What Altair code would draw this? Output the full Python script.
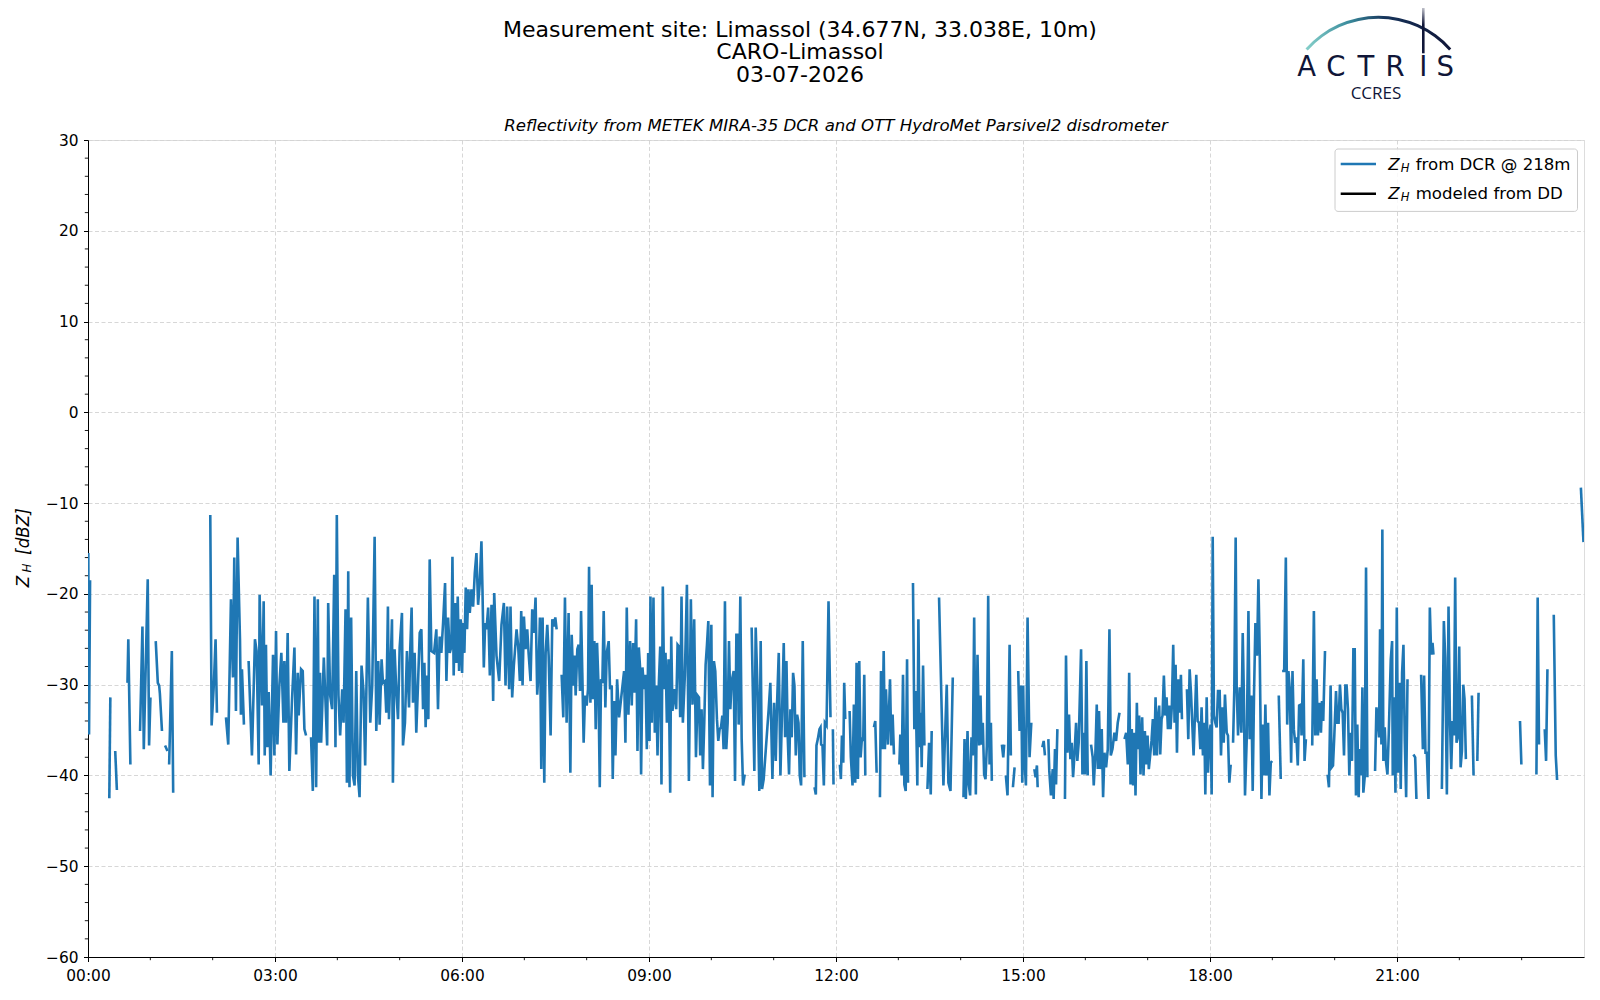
import altair as alt
import pandas as pd

# ---------------- data (minutes after 00:00 UTC, reflectivity dBZ); None = gap ----------------
t1 = [0, 0.3, 1, 2, None,
      20.5, 21.5, None,
      26.2, 27.8, None,
      38, 38.8, 40.8, None,
      50.1, 52.4, 53.7, 57.5, 58.8, 60.1, None,
      65.2, 67.2, 68.5, 69.2, 71.2, None,
      74.2, 76.5, None,
      78.1, 80.7, 82, None,
      117.7, 119, 121.2, 122.8, 124.1, None,
      132.8, 135, 137.6, 139.5, 140.8, 142.4, 144, 146.3, 147.2, 148.2, 150.1, None,
      154.6, 157.8, 160.7, 162.3, 164.3, 165.2, 167.5, 169.1, 170.1, 171.3,
      172.6, 173.9, 175.8, 178.1, 179.4, 181, 182.3, 184.2, 186.1, 188.1,
      189, 190.6, 192.2, 193.8, 196.4, 198.7, 200.3, 201.9, 202.8, 205.1,
      206.7, 208.3, 209.9, None,
      214.7, 216.4, 218, 219.6, 221.2, 222.1, 223.4, 224.4, 227, 230.2, 231.2]
z1 = [-35.5, -15.5, -35.5, -18.5, None,
      -42.5, -31.4, None,
      -37.3, -41.6, None,
      -29.8, -25.0, -38.8, None,
      -35.1, -23.6, -37.1, -18.4, -36.7, -31.4, None,
      -25.2, -29.8, -30.1, -31.0, -35.1, None,
      -36.7, -37.3, None,
      -38.8, -26.3, -41.9, None,
      -11.3, -34.5, -29.8, -25.0, -33.1, None,
      -33.6, -36.6, -20.6, -29.2, -16.0, -32.9, -13.8, -25.0, -33.3, -28.3, -34.4, None,
      -27.4, -37.8, -25.0, -26.3, -38.8, -20.1, -32.3, -20.8, -37.8, -25.6,
      -36.9, -30.8, -40.0, -26.7, -37.8, -24.1, -36.6, -30.1, -26.5, -34.2,
      -27.4, -34.2, -24.3, -39.5, -31.6, -25.9, -37.7, -28.7, -33.4, -28.3,
      -28.5, -34.9, -35.6, None,
      -35.8, -41.7, -20.3, -41.3, -20.6, -36.4, -28.7, -36.4, -27.0, -36.7, -21.0]

t2 = [233.1, 235.0, 237.0, 238.2, 239.5, 241.1, 242.7, 244.7, 246.0, 247.9,
      249.2, 250.5, 251.7, 253.3, 255.0, 256.6, 258.2, 259.8, 261.4, 263.3,
      265.2, 266.8, 269.4, 271.7, 273.6, 275.9, 277.5, 279.4, 280.7, 282.6,
      283.9, 285.8, 287.1, 288.7, 289.7, 291.0, 292.6, 293.5, 295.1, 296.7,
      298.4, 300.0, 302.2, 303.2, 305.1, 307.0, 309.0, 310.2, 311.5, 312.8,
      314.4, 316.0, 317.6, 319.3, 320.9, 322.5, 323.8, 325.0, 326.3, 327.6,
      328.9, 330.5, 333.1, 335.3, 336.9, 338.5, 340.1, 341.8, 343.7, 345.0,
      346.6, 348.2, 349.8, 350.8, 352.0, 353.3, 354.6, 355.9, 357.2, 358.8,
      360.1, 361.0, 362.3, 363.6, 364.9, 366.2, 367.5, 369.1, 370.7, 372.3,
      373.9, 375.5, 377.1, 378.7, 379.7, 381.0, 382.3, 383.6, 385.2, 386.8,
      388.4, 390.0, 391.0, 393.2, 395.8, 398.0, 400.3, 401.9, 403.5, 405.4,
      406.7, 408.3, 409.9, 412.5, 414.1, 415.7, 417.0, 418.3, 419.6, 421.2,
      422.8, 424.1, 426.0, 427.6, 429.2, 430.8, 432.4, 433.7, 435.0, 436.3,
      437.6, 439.2, 440.5, 442.1, 443.4, 445.3, 446.9, 448.5, 449.8, 451.1,
      None,
      455.9, 457.5, 459.1, 460.7, 462.6]
z2 = [-31.2, -32.7, -17.9, -36.9, -11.3, -31.2, -35.6, -30.5, -34.2, -21.7,
      -40.8, -17.5, -41.3, -22.6, -40.0, -41.1, -28.5, -40.0, -42.4, -27.9,
      -30.7, -38.9, -20.4, -34.2, -30.1, -13.7, -35.1, -27.4, -34.4, -27.2,
      -29.8, -29.6, -33.1, -21.4, -33.8, -29.0, -22.8, -40.8, -26.1, -30.5,
      -33.8, -25.9, -22.1, -36.7, -34.2, -26.3, -32.5, -26.1, -21.5, -32.0,
      -26.5, -35.3, -30.1, -24.3, -23.9, -32.7, -27.6, -34.7, -29.0, -33.8,
      -16.2, -26.3, -26.5, -23.9, -32.7, -24.7, -26.5, -23.2, -18.8, -29.6,
      -22.6, -26.5, -25.8, -15.9, -29.0, -21.0, -27.6, -20.3, -28.5, -22.8,
      -28.7, -23.2, -26.5, -19.3, -23.9, -19.5, -22.1, -19.5, -21.4, -17.7,
      -15.5, -21.2, -18.8, -14.2, -19.5, -28.1, -23.2, -23.9, -21.5, -29.0,
      -21.2, -31.8, -19.9, -26.8, -29.6, -23.4, -21.0, -30.1, -21.4, -30.5,
      -21.4, -31.4, -27.9, -23.9, -25.8, -29.6, -21.9, -30.1, -22.5, -26.1,
      -23.9, -26.5, -29.6, -21.7, -24.3, -20.4, -31.1, -28.5, -22.6, -39.3,
      -22.6, -40.8, -26.5, -23.4, -26.8, -35.6, -22.8, -23.6, -22.6, -23.9,
      None,
      -28.9, -33.6, -20.4, -34.2, -22.1]

t3 = [464.3, 465.6, 467.2, 468.4, 469.4, 471.0, 472.3, 473.6, 474.6, 475.8,
      477.1, 478.4, 480.0, 481.3, 482.3, 483.6, 484.8, 486.1, 487.4, 488.7,
      490.0, 491.3, 492.6, 493.8, 495.1, 496.4, 498.0, 499.3, 501.2, 502.5,
      504.1, 505.1, 506.4, 507.7, 509.3, 511.2, 516.0, 517.3, 518.6, 520.2,
      521.8, 523.4, 524.7, 526.0, 527.6, 528.9, 530.2, 531.5, 532.4, 533.7,
      535.3, 536.6, 537.9, 539.2, 540.5, 541.4, 542.7, 544.3, 545.6, 546.9,
      548.2, 549.5, 550.8, 552.0, 553.3, 554.6, 555.9, 557.2, 558.8, 560.4,
      561.4, 562.6, 564.3, 566.2, 567.5, 568.8, 570.0, 571.3, 572.6, 574.5,
      576.5, 578.4, 580.3, 581.9, 583.5, 585.2, 586.8, 588.1, 589.3, 590.6,
      591.9, 593.2, 594.5, 595.8, 597.1, 598.7, 600.0, 601.2, 602.5, 603.8,
      605.4, 606.7, 608.0, 609.3, 610.6, 611.8, 613.1, 614.4, 615.7, 617.0,
      618.3, 619.6, 621.5, 622.8, 624.1, 625.3, 626.3, 627.9, 629.2, 630.5,
      632.1, None,
      638.8, 641.4, 642.7, 644.6, 646.2, 647.5, 648.8, 650.4, 655.2, 656.8,
      658.8, 660.4, 662.0, 663.3, 664.9, 666.5, 668.1, 669.7, 671.0, 672.3,
      673.6, 674.8, 676.1, 677.4, 678.7, 680.0, 681.3, 682.6, 683.9, 685.1,
      686.4, 688.0, 689.6, None]
z3 = [-39.7, -24.5, -30.1, -26.8, -31.2, -26.1, -25.6, -30.7, -21.9, -28.7,
      -36.4, -31.2, -32.3, -30.5, -17.0, -32.0, -19.0, -31.6, -25.2, -34.9,
      -25.4, -29.8, -41.3, -29.4, -29.8, -21.9, -32.5, -26.5, -25.2, -30.5,
      -30.1, -40.4, -31.8, -37.8, -29.4, -33.6, -28.5, -36.4, -21.5, -33.3,
      -25.2, -32.3, -25.4, -30.9, -22.8, -37.3, -25.9, -28.3, -39.9, -28.1,
      -30.5, -28.9, -37.1, -26.5, -36.2, -20.3, -34.2, -20.4, -35.3, -30.1,
      -37.8, -29.8, -25.8, -41.0, -19.2, -30.5, -26.5, -34.2, -27.2, -41.9,
      -24.7, -32.9, -30.5, -32.7, -25.6, -25.8, -33.6, -20.3, -34.2, -29.0,
      -19.0, -40.6, -20.6, -32.2, -22.8, -38.0, -31.2, -31.4, -37.8, -32.7,
      -39.3, -34.2, -27.8, -25.6, -23.0, -41.1, -23.4, -42.4, -27.4, -28.5,
      -33.8, -36.2, -34.9, -34.7, -33.4, -37.1, -20.8, -37.1, -34.2, -25.2,
      -32.7, -29.6, -28.5, -40.6, -24.5, -24.5, -34.4, -20.3, -36.0, -41.1,
      -39.9, None,
      -23.7, -39.5, -23.7, -31.1, -41.7, -25.2, -41.5, -40.4, -32.7, -29.8,
      -40.4, -32.0, -38.4, -32.0, -26.5, -40.0, -32.9, -25.4, -35.8, -27.4,
      -36.0, -39.9, -32.7, -35.8, -28.7, -30.1, -37.8, -33.3, -34.2, -40.0,
      -41.1, -25.2, -40.2, None]

t4 = [699.3, 700.6, 701.2, 702.5, 704.1, 705.1, 705.7, 707.0, 708.3, 709.3, 710.9, 712.8, 714.7, None,
      717.0, 717.6, None,
      723.7, 724.7, 725.7, 727.0, 727.9, 728.9, None,
      733.1, 734.3, 735.9, 737.2, 738.5, 739.8, 741.1, 742.4, 743.7, 745.0, 746.2, 747.2, 748.2, None,
      756.5, 757.8, 759.1, None,
      762.3, 763.3, 764.6, 765.9, 767.1, 768.1, 770.0, 772.0, 773.2, 774.5, 775.8, None,
      781.0, 781.9, 783.2, 784.5, 785.8, 787.1, 788.4, 789.3, None,
      794.1, 795.4, 796.7, 798.3, 799.3, 800.6, 801.5, 802.5, 803.8, 805.1, None,
      808.0, 809.6, 811.2, 812.1, None,
      819.2, 823.4, 826.6, 828.2, 830.2, 832.4, None,
      842.7, 843.7, 845.0, 846.6, 847.8, 849.1, 850.4, 851.7, 853.0, 854.6,
      856.2, 857.8, 859.1, 860.1, 861.3, 862.6, 863.9, 865.2, 866.5, 867.8, 869.1, 870.0, None,
      879.7, 881.0, 881.9, None,
      883.5, 885.1, 887.1, 888.3, None,
      890.3, 891.9, None,
      895.4, 896.7, 898.3, 899.3, 900.2, 901.2, 902.8, 904.4, 906.3, 908.0, None,
      910.9, 912.1, 913.4, 914.1, None,
      918.6, 919.9, 921.1, None]
z4 = [-41.3, -42.1, -36.7, -36.0, -34.9, -34.7, -36.6, -36.7, -41.1, -34.2, -34.5, -20.8, -33.6, None,
      -34.9, -41.0, None,
      -38.8, -40.4, -35.6, -38.6, -29.8, -33.8, None,
      -32.9, -38.0, -41.1, -32.2, -40.8, -27.6, -40.4, -27.4, -38.0, -35.8, -36.2, -28.9, -40.0, None,
      -34.7, -34.0, -39.7, None,
      -42.4, -28.5, -37.1, -26.3, -37.1, -30.5, -36.6, -29.4, -36.7, -33.3, -37.7, None,
      -38.8, -35.5, -40.0, -28.9, -41.0, -41.7, -27.2, -40.8, None,
      -18.8, -34.9, -30.7, -41.1, -22.8, -36.9, -33.1, -39.1, -27.9, -36.7, None,
      -41.5, -36.4, -42.1, -35.1, None,
      -20.4, -41.1, -30.0, -40.8, -41.7, -29.2, None,
      -42.4, -36.0, -42.6, -35.1, -41.0, -42.2, -35.8, -37.8, -22.6, -42.1,
      -26.7, -36.7, -31.2, -36.6, -34.2, -39.9, -40.4, -36.7, -20.2, -38.8, -34.2, -40.6, None,
      -36.6, -38.0, -36.6, None,
      -40.0, -42.2, -25.6, -37.8, None,
      -41.3, -39.1, None,
      -28.5, -35.1, -30.1, -40.8, -30.1, -37.8, -41.1, -22.6, -38.0, -34.2, None,
      -39.3, -40.2, -38.9, -41.3, None,
      -36.9, -36.2, -37.8, None]

t5 = [924.4, 925.3, 926.9, 928.6, 929.5, 930.8, 931.8, 933.1, None,
      940.4, 941.4, 942.7, 944.3, 945.6, 946.9, 948.2, 949.5, 951.1, 952.3,
      953.6, 955.9, 957.2, 958.5, 959.7, 961.0, 962.3, None,
      965.5, 967.1, 968.1, 969.7, 971.0, 972.0, 973.2, 974.5, 975.8, 977.1,
      978.4, 980.0, 981.6, 983.2, 984.5, 986.1, 988.0, 989.6, 991.2, 992.9, None,
      997.7, 999.3, 1000.9, 1002.2, 1003.5, 1004.7, 1006.0, 1007.3, 1008.3, 1009.6,
      1010.5, 1011.8, 1013.1, 1014.7, 1016.0, 1017.3, 1018.6, 1019.9, 1021.1, 1022.4,
      1023.7, 1025.0, 1026.3, 1027.6, 1028.9, 1029.8, 1031.1, 1032.1, 1033.4, 1034.3,
      1035.6, 1036.9, 1038.2, 1039.5, 1040.8, 1042.0, 1043.3, 1044.6, 1045.9, 1046.9,
      1048.2, 1049.4, 1050.7, 1052.0, 1053.0, None,
      1057.8, 1059.1, 1060.4, 1061.7, 1062.9, 1064.2, 1065.5, 1066.8, 1068.1, 1069.4,
      1070.7, 1071.9, 1073.2, 1074.5, 1075.5, 1076.8, 1078.1, 1079.3, 1080.6, 1081.6,
      1082.6, 1083.8, 1085.1, 1086.4, 1087.7, 1089.3, 1090.6, 1091.9, 1093.2, 1094.4,
      1096.1, 1097.3, 1098.6, 1099.9, None,
      1102.2, 1103.4, 1104.7, 1105.7, 1107.0, 1108.6, 1110.2, 1111.5, 1112.5, 1113.7,
      1115.4, 1117.0, 1118.2, 1119.8, 1121.1, 1122.4, 1123.7, 1125.3, 1126.6, 1127.9,
      1129.5, 1130.8, 1132.1, 1133.3, 1134.6, 1135.9, 1137.2, 1138.5, 1139.8, None,
      1146.2, 1148.1, None,
      1149.4, 1151.4, 1153.0, 1154.3, 1155.5, 1156.8, 1158.1, 1159.4, 1160.7, 1162.0,
      1163.2, 1164.5, 1165.8, 1167.4, 1168.1, 1169.8, 1171.0, 1172.3, None]
z5 = [-36.0, -39.5, -42.2, -39.3, -42.6, -37.1, -41.0, -34.9, None,
      -42.6, -26.8, -37.5, -33.3, -38.2, -36.4, -40.2, -37.8, -34.2, -38.4,
      -36.4, -26.1, -39.9, -35.3, -39.9, -27.4, -40.0, None,
      -36.6, -38.0, -41.1, -37.5, -32.2, -39.3, -32.9, -39.3, -34.9, -42.4,
      -37.5, -39.1, -37.1, -23.9, -37.8, -37.1, -35.3, -36.2, -34.2, -33.1, None,
      -36.0, -35.3, -38.8, -28.7, -41.0, -34.9, -41.1, -35.3, -42.2, -32.0,
      -37.1, -33.4, -39.9, -33.6, -40.0, -35.1, -38.8, -35.6, -39.3, -37.8,
      -36.2, -33.8, -37.8, -31.4, -37.8, -33.8, -32.3, -37.7, -33.8, -33.4,
      -29.0, -33.4, -31.4, -34.9, -32.3, -34.9, -32.3, -25.6, -34.2, -27.8,
      -37.5, -29.4, -33.1, -28.9, -33.8, None,
      -30.5, -36.0, -28.3, -30.9, -34.2, -37.8, -33.4, -28.9, -34.0, -34.2,
      -37.1, -32.5, -37.8, -34.2, -42.1, -31.4, -39.7, -35.5, -34.4, -42.1,
      -13.7, -33.4, -34.2, -34.7, -30.7, -30.7, -37.8, -32.5, -36.4, -31.1,
      -35.3, -35.6, -40.8, -38.8, None,
      -36.4, -30.5, -13.8, -30.3, -35.6, -30.3, -35.3, -24.3, -30.5, -42.2,
      -35.8, -21.9, -36.0, -31.2, -41.7, -30.9, -23.2, -26.8, -18.4, -26.8,
      -42.6, -34.4, -40.0, -32.2, -40.0, -34.2, -42.2, -38.6, -38.4, None,
      -31.2, -40.4, None,
      -28.5, -28.5, -16.0, -34.4, -28.5, -30.5, -38.6, -28.5, -34.9, -36.4,
      -35.8, -38.9, -32.3, -32.2, -35.6, -27.2, -38.4, -36.0, None]

t6 = [1178.4, 1180.0, 1181.3, 1182.6, 1183.9, 1185.2, 1186.8, 1187.8, 1189.0, 1190.7, None,
      1193.2, 1194.5, 1196.1, 1197.1, 1198.4, 1199.7, 1201.3, 1202.5, 1203.8, 1205.1,
      1206.4, 1207.7, 1209.0, 1210.3, 1211.5, 1212.8, 1214.1, 1215.4, 1216.7, 1218.0,
      1219.3, 1220.5, 1221.8, 1223.1, 1224.1, 1225.4, 1226.7, 1227.6, 1228.9, 1230.2,
      1231.5, None,
      1238.9, 1240.2, 1241.4, 1242.7, 1243.7, 1245.0, 1245.9, 1246.9, 1248.2, 1249.5,
      1250.8, 1252.1, 1254.0, 1255.3, 1255.9, 1257.2, 1258.5, 1259.8, 1261.1, 1262.3,
      1263.6, 1264.9, 1266.2, 1267.5, 1268.8, 1270.1, None,
      1275.8, 1277.5, 1278.7, None,
      1283.2, 1284.9, 1286.1, 1287.4, 1288.7, 1290.3, 1291.6, 1292.9, 1294.2, 1295.1, None,
      1303.2, 1305.1, 1306.4, 1308.0, 1309.6, 1310.9, 1312.2, 1313.5, 1314.8, 1316.0,
      1317.3, 1318.6, 1319.9, 1321.2, 1322.5, 1323.8, 1325.0, 1326.3, None,
      1332.1, 1333.7, None,
      1337.3, 1338.5, None,
      1378.4, 1379.7, None,
      1394.2, 1395.4, 1396.7, None,
      1402.2, 1403.5, 1404.8, None,
      1410.9, 1412.8, 1414.1, None,
      1437.0, 1439.5]
z6 = [-36.7, -21.9, -35.6, -29.4, -35.6, -32.0, -35.3, -31.8, -34.0, -26.3, None,
      -39.9, -41.3, -30.1, -39.1, -38.9, -35.5, -30.7, -34.2, -34.2, -30.0,
      -32.7, -33.1, -37.8, -30.1, -30.1, -32.7, -40.0, -35.3, -38.4, -26.1,
      -26.1, -42.2, -34.4, -42.4, -37.1, -40.0, -30.3, -41.9, -40.2, -17.1,
      -40.2, None,
      -39.5, -32.5, -33.6, -35.8, -23.9, -36.6, -12.9, -38.4, -34.7, -38.6,
      -39.9, -35.3, -27.2, -25.2, -40.0, -31.4, -41.9, -21.5, -39.7, -29.8,
      -41.5, -28.7, -25.6, -36.2, -42.4, -29.4, None,
      -37.7, -38.0, -42.6, None,
      -28.9, -37.1, -29.0, -37.5, -37.5, -42.6, -21.5, -26.7, -25.4, -26.7, None,
      -41.5, -23.0, -27.0, -42.1, -21.4, -33.6, -39.3, -34.0, -35.6, -18.2,
      -36.4, -35.8, -25.8, -39.1, -37.3, -30.0, -31.6, -38.2, None,
      -31.2, -40.0, None,
      -38.4, -30.9, None,
      -34.0, -38.8, None,
      -39.9, -20.4, -36.6, None,
      -34.9, -38.4, -28.3, None,
      -22.3, -37.8, -40.5, None,
      -8.3, -14.3]

x_tick_minutes = [0, 180, 360, 540, 720, 900, 1080, 1260]
y_tick_values = [-60, -50, -40, -30, -20, -10, 0, 10, 20, 30]

title_lines = ["Measurement site: Limassol (34.677N, 33.038E, 10m)", "CARO-Limassol", "03-07-2026"]
subtitle = "Reflectivity from METEK MIRA-35 DCR and OTT HydroMet Parsivel2 disdrometer"
logo_letters = ["A", "C", "T", "R", "I", "S"]

# ---------------- build table ----------------
times = t1 + t2 + t3 + t4 + t5 + t6
values = z1 + z2 + z3 + z4 + z5 + z6
assert len(times) == len(values), (len(times), len(values))
rows = []
seg = 0
for t, z in zip(times, values):
    if t is None or z is None:
        seg += 1
        continue
    rows.append({"minute": t, "dbz": z, "seg": seg})
df = pd.DataFrame(rows)

minor_x = pd.DataFrame({"minute": [h * 60 for h in range(1, 24) if h % 3 != 0]})
minor_y = pd.DataFrame({"dbz": [v for v in range(-58, 30, 2) if v % 10 != 0]})
one = pd.DataFrame({"a": [0]})

W, H = 1496, 817
FONT = "DejaVu Sans"
BLUE = "#1f77b4"
NAVY = "#101638"

xscale = alt.Scale(domain=[0, 1440], nice=False, zero=False)
yscale = alt.Scale(domain=[-60, 30], nice=False, zero=False)

xaxis = alt.Axis(values=x_tick_minutes, title=None,
                 labelExpr="format(datum.value / 60, '02d') + ':00'",
                 labelFlush=False, labelOverlap=False,
                 grid=True, gridDash=[4, 2.5], gridColor="#d2d2d2", gridWidth=0.9,
                 tickSize=4.5, tickColor="black", tickWidth=1, domainColor="black",
                 labelFontSize=15.4, labelColor="black", labelPadding=6.5,
                 labelFont=FONT)
yaxis = alt.Axis(values=y_tick_values, title=None, format="d",
                 labelFlush=False, labelOverlap=False,
                 grid=True, gridDash=[4, 2.5], gridColor="#d2d2d2", gridWidth=0.9,
                 tickSize=4.5, tickColor="black", tickWidth=1, domainColor="black",
                 labelFontSize=15.4, labelColor="black", labelPadding=5.5,
                 labelFont=FONT)

line = alt.Chart(df).mark_line(color=BLUE, strokeWidth=2.6, clip=True).encode(
    x=alt.X("minute:Q", scale=xscale, axis=xaxis),
    y=alt.Y("dbz:Q", scale=yscale, axis=yaxis),
    detail="seg:N",
)

mx = alt.Chart(minor_x).mark_rule(color="black", strokeWidth=0.9).encode(
    x=alt.X("minute:Q", scale=xscale, axis=xaxis),
    y=alt.value(H), y2=alt.value(H + 3.2))
my = alt.Chart(minor_y).mark_rule(color="black", strokeWidth=0.9).encode(
    y=alt.Y("dbz:Q", scale=yscale, axis=yaxis),
    x=alt.value(-3.2), x2=alt.value(0))


def txt(text, x, y, size, **kw):
    return alt.Chart(one).mark_text(text=text, fontSize=size, font=kw.pop("font", FONT),
                                    color=kw.pop("color", "black"),
                                    align=kw.pop("align", "center"),
                                    baseline=kw.pop("baseline", "middle"), **kw).encode(
        x=alt.value(x), y=alt.value(y))


layers = [line, mx, my]

# header
for ln, yy in zip(title_lines, [-110.5, -88, -65.5]):
    layers.append(txt(ln, 712, yy, 22.0))
layers.append(txt(subtitle, W / 2, -14, 16.6, fontStyle="italic"))

# y axis label  Z_H [dBZ]
layers.append(txt("Z", -64, 441.5, 16.8, fontStyle="italic", angle=270))
layers.append(txt("H", -61.5, 428, 11.8, fontStyle="italic", angle=270))
layers.append(txt("[dBZ]", -64, 391.5, 16.8, fontStyle="italic", angle=270))

# legend
layers.append(alt.Chart(one).mark_rect(fill="white", fillOpacity=0.85, stroke="#cccccc",
                                       strokeWidth=1, cornerRadius=3).encode(
    x=alt.value(1247), x2=alt.value(1489.5), y=alt.value(9), y2=alt.value(71.4)))
layers.append(alt.Chart(one).mark_rule(color=BLUE, strokeWidth=2.6).encode(
    x=alt.value(1252.7), x2=alt.value(1288), y=alt.value(24)))
layers.append(alt.Chart(one).mark_rule(color="black", strokeWidth=2.6).encode(
    x=alt.value(1252.7), x2=alt.value(1288), y=alt.value(53.7)))
for yy, rest in [(24, "from DCR @ 218m"), (53.7, "modeled from DD")]:
    layers.append(txt("Z", 1300.3, yy + 0.5, 16.6, fontStyle="italic", align="left"))
    layers.append(txt("H", 1312.8, yy + 4.5, 11.6, fontStyle="italic", align="left"))
    layers.append(txt(rest, 1327.7, yy + 0.5, 16.6, align="left"))

# ACTRIS logo
arc_grad = alt.Gradient(gradient="linear", x1=0, x2=1, y1=0, y2=0,
                        stops=[alt.GradientStop(color="#86d0ca", offset=0),
                               alt.GradientStop(color="#3a8b9c", offset=0.3),
                               alt.GradientStop(color="#16335a", offset=0.55),
                               alt.GradientStop(color=NAVY, offset=1)])
layers.append(alt.Chart(one).mark_arc(theta=5.442, theta2=7.124, radius=97.8, radius2=94.8,
                                      fill=arc_grad).encode(
    x=alt.value(1290.4), y=alt.value(-26.4)))
bar_grad = alt.Gradient(gradient="linear", x1=0, x2=0, y1=0, y2=1,
                        stops=[alt.GradientStop(color="#ffffff", offset=0),
                               alt.GradientStop(color=NAVY, offset=0.45),
                               alt.GradientStop(color=NAVY, offset=1)])
layers.append(alt.Chart(one).mark_rect(fill=bar_grad).encode(
    x=alt.value(1334), x2=alt.value(1336.6), y=alt.value(-138.3), y2=alt.value(-86.7)))
for letter, lx in zip(logo_letters, [1218.7, 1247.8, 1277.8, 1307.0, 1335.3, 1357.3]):
    layers.append(txt(letter, lx, -72, 27.5, color=NAVY))
layers.append(txt("CCRES", 1288, -46, 17, color=NAVY, font="Open Sans"))

chart = alt.layer(*layers).properties(
    width=W, height=H,
    autosize=alt.AutoSizeParams(type="none"),
    padding={"left": 80, "top": 132, "right": 8, "bottom": 40},
).configure_view(stroke="black", strokeWidth=1.1).configure(font=FONT)

chart.save("out.html", embed_options={"renderer": "svg", "actions": False})
